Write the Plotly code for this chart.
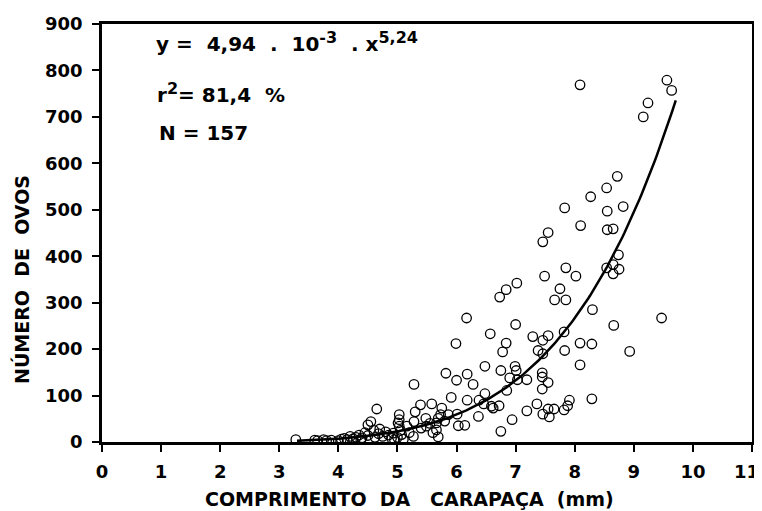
import numpy as np
import plotly.graph_objects as go

# Carapace length (mm) and egg number
comprimento = [
    8.09, 9.56, 9.64, 9.24, 9.16, 8.72, 8.54, 8.27, 7.83, 8.82, 8.55, 8.10, 8.55, 8.65,
    7.55, 7.46, 8.74, 8.54, 8.65, 8.75, 8.65, 7.85, 7.49, 8.02, 7.02, 6.84, 6.73, 7.75,
    7.66, 7.85, 8.30, 9.47, 6.17, 7.00, 8.66, 6.57, 7.29, 7.46, 7.55, 6.84, 7.82, 8.09,
    8.29, 5.99, 6.78, 7.38, 7.46, 7.83, 8.93, 8.09, 6.48, 6.99, 7.01, 6.75, 6.18, 5.82,
    7.45, 7.45, 6.00, 6.90, 7.03, 7.19, 5.28, 6.28, 7.55, 7.45, 6.85, 5.91, 6.48, 6.18,
    6.38, 8.29, 5.39, 5.58, 5.75, 6.46, 6.59, 6.72, 7.36, 7.91, 7.88, 7.19, 7.55, 7.65,
    7.82, 7.46, 7.57, 5.30, 5.48, 5.69, 5.73, 5.86, 6.01, 6.37, 6.03, 6.14, 6.94, 6.75,
    5.27, 5.69, 5.66, 5.66, 5.49, 5.28, 6.62, 5.55, 5.80, 5.40, 5.60,
    3.28, 3.60, 3.65, 3.75, 3.80, 3.88, 4.00, 4.05, 4.10, 4.15, 4.20, 4.25, 4.30, 4.35,
    4.38, 4.40, 4.45, 4.50, 4.50, 4.55, 4.60, 4.62, 4.65, 4.68, 4.70, 4.75, 4.80, 4.85,
    4.90, 4.93, 4.95, 5.00, 5.01, 5.03, 5.03, 5.03, 5.05, 5.07, 5.10, 5.16, 5.20,
]
ovos = [
    769, 779, 757, 730, 700, 572, 547, 528, 504, 507, 497, 466, 457, 459,
    451, 431, 403, 375, 382, 372, 362, 375, 357, 357, 342, 328, 312, 330,
    306, 306, 285, 267, 267, 253, 251, 233, 227, 219, 229, 213, 237, 213,
    211, 212, 194, 197, 190, 197, 195, 166, 163, 163, 154, 154, 146, 148,
    149, 140, 133, 138, 134, 134, 124, 124, 128, 114, 111, 96, 104, 90,
    90, 93, 80, 82, 73, 82, 77, 78, 82, 90, 78, 67, 71, 71,
    69, 60, 54, 65, 51, 51, 59, 59, 60, 55, 35, 36, 48, 23,
    12, 11, 26, 41, 34, 44, 73, 40, 45, 30, 20,
    5, 4, 3, 5, 3, 4, 3, 6, 8, 5, 12, 7, 10, 15,
    5, 9, 20, 14, 37, 44, 25, 10, 71, 18, 28, 12, 22, 15,
    8, 19, 5, 10, 41, 59, 48, 34, 25, 16, 6, 34, 20,
]

# Fitted power model printed on the figure: y = a * x^b
coef_a = 4.94e-3
coef_b = 5.24
curve_x = np.linspace(3.3, 9.71, 200)
curve_y = coef_a * curve_x ** coef_b

x_ticks = list(range(0, 12))
x_labels = [str(v) for v in x_ticks]
y_ticks = list(range(0, 1000, 100))
y_labels = [str(v) for v in y_ticks]

FONT = "DejaVu Sans"

fig = go.Figure()
fig.add_trace(go.Scatter(
    x=comprimento, y=ovos, mode="markers",
    marker=dict(symbol="circle-open", size=9.5, color="black", line=dict(width=1.3, color="black")),
    showlegend=False, hoverinfo="skip",
))
fig.add_trace(go.Scatter(
    x=curve_x, y=curve_y, mode="lines",
    line=dict(color="black", width=2.5), showlegend=False, hoverinfo="skip",
))

# page body has an 8px margin: figure sits at (8, 8) in the window
OFF = 8
W, H = 762 - OFF, 511 - OFF
L, T = 102 - OFF, 24 - OFF
R = W - (752 - OFF)
B = H - (442 - OFF)
pw, ph = W - L - R, H - T - B

def px(xp):
    return (xp - OFF - L) / pw

def py(yp):
    return (H - B - (yp - OFF)) / ph

tick_font = dict(family=FONT, size=18, color="black", weight="bold")

fig.update_layout(
    width=W, height=H,
    margin=dict(l=L, r=R, t=T, b=B, autoexpand=False),
    paper_bgcolor="white", plot_bgcolor="white",
    font=dict(family=FONT, color="black", size=17, weight="bold"),
)
# last x label sits at the right page edge; it is drawn separately, right-aligned
fig.update_xaxes(
    range=[0, 11], tickvals=x_ticks, ticktext=x_labels[:-1] + [""],
    showgrid=False, zeroline=False, showline=True, linecolor="black", linewidth=2.5,
    mirror=True, ticks="outside", ticklen=7, tickwidth=2, tickcolor="black",
    ticklabelstandoff=5, automargin=False, ticklabeloverflow="allow",
    tickfont=tick_font,
)
fig.update_yaxes(
    range=[0, 900], tickvals=y_ticks, ticktext=y_labels,
    showgrid=False, zeroline=False, showline=True, linecolor="black", linewidth=2.5,
    mirror=True, ticks="outside", ticklen=7, tickwidth=2, tickcolor="black",
    ticklabelstandoff=6, automargin=False, ticklabeloverflow="allow",
    tickfont=tick_font,
)
fig.add_annotation(
    text=x_labels[-1], xref="paper", yref="paper", x=px(761), y=py(471),
    xanchor="right", yanchor="middle", showarrow=False, font=tick_font,
)

NB = "\u00a0"
ann_font = dict(family=FONT, size=20, color="black", weight="bold")
title_font = dict(family=FONT, size=19, color="black", weight="bold")
sup = lambda s: f"<sup><span style='font-size:16px'>{s}</span></sup>"
fig.add_annotation(
    text=f"y{NB}={NB}{NB}4,94{NB}{NB}.{NB}{NB}10{sup('-3')}{NB}{NB}.{NB}x{sup('5,24')}",
    xref="paper", yref="paper", x=px(154), y=py(58), xanchor="left", yanchor="bottom",
    showarrow=False, font=ann_font,
)
fig.add_annotation(
    text=f"r{sup('2')}={NB}81,4{NB}{NB}%",
    xref="paper", yref="paper", x=px(155), y=py(109), xanchor="left", yanchor="bottom",
    showarrow=False, font=ann_font,
)
fig.add_annotation(
    text="N = 157",
    xref="paper", yref="paper", x=px(157), y=py(133), xanchor="left", yanchor="middle",
    showarrow=False, font=ann_font,
)
fig.add_annotation(
    text=f"COMPRIMENTO{NB}{NB}DA{NB}{NB}{NB}CARAPAÇA{NB}{NB}(mm)",
    xref="paper", yref="paper", x=px(409), y=py(499), xanchor="center", yanchor="middle",
    showarrow=False, font=title_font,
)
fig.add_annotation(
    text=f"NÚMERO{NB}{NB}DE{NB}{NB}OVOS",
    xref="paper", yref="paper", x=px(21), y=py(280), xanchor="center", yanchor="middle",
    textangle=-90, showarrow=False, font=title_font,
)

fig.write_html("out.html")
